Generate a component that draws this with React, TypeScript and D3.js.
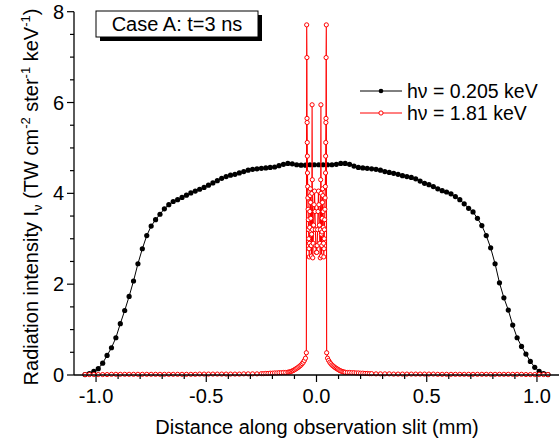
import React from 'react';
import * as d3 from 'd3';

const W = 559;
const H = 444;
const FONT = "'Liberation Sans', Arial, Helvetica, sans-serif";

// X axis ticks (mm)
const xMajorTicks = [-1.0, -0.5, 0.0, 0.5, 1.0];
const xMajorLabels = ['-1.0', '-0.5', '0.0', '0.5', '1.0'];
// Y axis ticks
const yMajorTicks = [0, 2, 4, 6, 8];
const yMajorLabels = ['0', '2', '4', '6', '8'];

const titleText = 'Case A: t=3 ns';
const seriesNames = ['hν = 0.205 keV', 'hν = 1.81 keV'];

// hν = 0.205 keV
const blackX = [
  -1.05, -1.03, -1.01, -0.99, -0.97, -0.95, -0.93, -0.91, -0.89, -0.87, -0.85, -0.83, -0.81, -0.79,
  -0.77, -0.75, -0.73, -0.71, -0.69, -0.67, -0.65, -0.63, -0.61, -0.59, -0.57, -0.55, -0.53, -0.51,
  -0.49, -0.47, -0.45, -0.43, -0.41, -0.39, -0.37, -0.35, -0.33, -0.31, -0.29, -0.27, -0.25, -0.23,
  -0.21, -0.19, -0.17, -0.15, -0.13, -0.11, -0.09, -0.07, -0.05, -0.03, -0.01,
  0.01, 0.03, 0.05, 0.07, 0.09, 0.11, 0.13, 0.15, 0.17, 0.19, 0.21, 0.23, 0.25, 0.27, 0.29, 0.31,
  0.33, 0.35, 0.37, 0.39, 0.41, 0.43, 0.45, 0.47, 0.49, 0.51, 0.53, 0.55, 0.57, 0.59, 0.61, 0.63,
  0.65, 0.67, 0.69, 0.71, 0.73, 0.75, 0.77, 0.79, 0.81, 0.83, 0.85, 0.87, 0.89, 0.91, 0.93, 0.95,
  0.97, 0.99, 1.01, 1.03, 1.05,
];
const blackY = [
  0.01, 0.03, 0.08, 0.14, 0.26, 0.43, 0.6, 0.82, 1.13, 1.42, 1.73, 2.07, 2.45, 2.78,
  3.07, 3.28, 3.42, 3.54, 3.66, 3.75, 3.82, 3.86, 3.91, 3.96, 4.01, 4.05, 4.09, 4.13,
  4.18, 4.23, 4.28, 4.33, 4.37, 4.4, 4.42, 4.45, 4.48, 4.51, 4.53, 4.54, 4.55, 4.56,
  4.57, 4.58, 4.61, 4.64, 4.66, 4.65, 4.63, 4.62, 4.62, 4.63, 4.63,
  4.63, 4.63, 4.63, 4.63, 4.64, 4.66, 4.66, 4.64, 4.6, 4.57, 4.56, 4.55, 4.54, 4.53, 4.51,
  4.48, 4.46, 4.44, 4.42, 4.39, 4.37, 4.35, 4.32, 4.27, 4.22, 4.19, 4.15, 4.1, 4.06, 4.03, 3.99,
  3.93, 3.86, 3.77, 3.67, 3.59, 3.45, 3.29, 3.07, 2.8, 2.45, 2.03, 1.7, 1.43, 1.1, 0.82, 0.63, 0.46,
  0.3, 0.17, 0.08, 0.03, 0.01,
];

// hν = 1.81 keV
const redX = [
  -1.05, -1.03, -1.01, -0.99, -0.97, -0.95, -0.93, -0.91, -0.89, -0.87, -0.85, -0.83, -0.81, -0.79,
  -0.77, -0.75, -0.73, -0.71, -0.69, -0.67, -0.65, -0.63, -0.61, -0.59, -0.57, -0.55, -0.53, -0.51,
  -0.49, -0.47, -0.45, -0.43, -0.41, -0.39, -0.37, -0.35, -0.33, -0.31, -0.29, -0.27,
  -0.25, -0.24, -0.23, -0.22, -0.21, -0.2, -0.19, -0.18, -0.17, -0.16, -0.15, -0.14, -0.13,
  -0.125, -0.12, -0.115, -0.11, -0.105, -0.1, -0.095, -0.09, -0.085, -0.08, -0.075, -0.07, -0.065,
  -0.06, -0.055, -0.05,
  -0.046, -0.0445, -0.0435, -0.043, -0.0425, -0.042, -0.0415, -0.041, -0.04, -0.039, -0.038, -0.037,
  -0.036, -0.035, -0.034, -0.033, -0.032, -0.031, -0.03, -0.029, -0.028, -0.027, -0.026, -0.025,
  -0.024, -0.023, -0.022, -0.021, -0.02, -0.019, -0.018, -0.017, -0.015, -0.013, -0.011, -0.009,
  -0.007, -0.005, -0.003, -0.001,
  0.001, 0.003, 0.005, 0.007, 0.009, 0.011, 0.013, 0.015, 0.017, 0.018, 0.019, 0.02, 0.021, 0.022,
  0.023, 0.024, 0.025, 0.026, 0.027, 0.028, 0.029, 0.03, 0.031, 0.032, 0.033, 0.034, 0.035, 0.036,
  0.037, 0.038, 0.039, 0.04, 0.041, 0.0415, 0.042, 0.0425, 0.043, 0.0435, 0.0445, 0.046,
  0.05, 0.055, 0.06, 0.065, 0.07, 0.075, 0.08, 0.085, 0.09, 0.095, 0.1, 0.105, 0.11, 0.115, 0.12,
  0.125,
  0.13, 0.14, 0.15, 0.16, 0.17, 0.18, 0.19, 0.2, 0.21, 0.22, 0.23, 0.24, 0.25,
  0.27, 0.29, 0.31, 0.33, 0.35, 0.37, 0.39, 0.41, 0.43, 0.45, 0.47, 0.49, 0.51, 0.53, 0.55, 0.57,
  0.59, 0.61, 0.63, 0.65, 0.67, 0.69, 0.71, 0.73, 0.75, 0.77, 0.79, 0.81, 0.83, 0.85, 0.87, 0.89,
  0.91, 0.93, 0.95, 0.97, 0.99, 1.01, 1.03, 1.05,
];
const redY = [
  0.01, 0.01, 0.01, 0.01, 0.01, 0.01, 0.015, 0.015, 0.015, 0.015, 0.015, 0.015, 0.015, 0.015,
  0.015, 0.015, 0.015, 0.015, 0.015, 0.015, 0.015, 0.015, 0.015, 0.015, 0.015, 0.015, 0.02, 0.02,
  0.02, 0.02, 0.02, 0.02, 0.02, 0.02, 0.02, 0.02, 0.025, 0.025, 0.025, 0.025,
  0.03, 0.03, 0.035, 0.035, 0.04, 0.04, 0.045, 0.045, 0.05, 0.05, 0.055, 0.055, 0.06,
  0.065, 0.07, 0.08, 0.09, 0.1, 0.115, 0.13, 0.145, 0.16, 0.18, 0.2, 0.22, 0.25,
  0.28, 0.32, 0.37,
  0.49, 7.71, 6.99, 5.65, 5.56, 5.12, 4.82, 4.45, 4.15, 3.9, 3.65, 3.42,
  3.2, 3.0, 2.78, 2.6, 2.9, 3.25, 3.6, 3.95, 4.1, 3.8, 3.45, 3.15,
  2.85, 2.62, 3.1, 4.0, 5.95, 4.3, 3.2, 2.58, 2.9, 3.3, 3.75, 4.05,
  3.6, 3.2, 2.85, 2.7,
  2.7, 2.85, 3.2, 3.6, 4.05, 3.75, 3.3, 2.9, 2.58, 3.2, 4.3, 5.95, 4.0, 3.1,
  2.62, 2.85, 3.15, 3.45, 3.8, 4.1, 3.95, 3.6, 3.25, 2.9, 2.6, 2.78, 3.0, 3.2,
  3.42, 3.65, 3.9, 4.15, 4.45, 4.82, 5.12, 5.56, 5.65, 6.99, 7.71, 0.49,
  0.37, 0.32, 0.28, 0.25, 0.22, 0.2, 0.18, 0.16, 0.145, 0.13, 0.115, 0.1, 0.09, 0.08, 0.07,
  0.065,
  0.06, 0.055, 0.055, 0.05, 0.05, 0.045, 0.045, 0.04, 0.04, 0.035, 0.035, 0.03, 0.03,
  0.025, 0.025, 0.025, 0.025, 0.02, 0.02, 0.02, 0.02, 0.02, 0.02, 0.02, 0.02, 0.02, 0.02, 0.015, 0.015,
  0.015, 0.015, 0.015, 0.015, 0.015, 0.015, 0.015, 0.015, 0.015, 0.015, 0.015, 0.015, 0.015, 0.015, 0.015, 0.015,
  0.015, 0.015, 0.01, 0.01, 0.01, 0.01, 0.01, 0.01,
];

const xScale = d3.scaleLinear().domain([-1.1, 1.1]).range([74, 559]);
const yScale = d3.scaleLinear().domain([0, 8]).range([375, 11.7]);

type Pt = [number, number];
const lineGen = d3
  .line<Pt>()
  .x((d) => xScale(d[0]))
  .y((d) => yScale(d[1]));

const blackPts: Pt[] = blackX.map((v, i) => [v, blackY[i]]);
const redPts: Pt[] = redX.map((v, i) => [v, redY[i]]);

const xMinorTicks = d3.range(-11, 12).map((i) => i / 10).filter(
  (t) => Math.abs(t) < 1.095 && !xMajorTicks.some((m) => Math.abs(m - t) < 1e-9)
);
const yMinorTicks = d3.range(0, 17).map((i) => i / 2).filter((t) => t % 2 !== 0);

export default function App() {
  const x0 = xScale.range()[0];
  const x1 = xScale.range()[1];
  const yb = yScale(0);
  const yt = yScale(8);
  return (
    <svg
      width={W}
      height={H}
      viewBox={`0 0 ${W} ${H}`}
      style={{ position: 'absolute', left: 0, top: 0, background: '#fff' }}
      fontFamily={FONT}
    >
      <rect x={0} y={0} width={W} height={H} fill="#fff" />

      {/* black series */}
      <path d={lineGen(blackPts) || ''} fill="none" stroke="#000" strokeWidth={1} />
      {blackPts.map((d, i) => (
        <circle key={'b' + i} cx={xScale(d[0])} cy={yScale(d[1])} r={2.6} fill="#000" />
      ))}

      {/* red series */}
      <path d={lineGen(redPts) || ''} fill="none" stroke="#ff0000" strokeWidth={1.1} />
      {redPts.map((d, i) => (
        <circle
          key={'r' + i}
          cx={xScale(d[0])}
          cy={yScale(d[1])}
          r={2.1}
          fill="#fff"
          stroke="#ff0000"
          strokeWidth={1}
        />
      ))}

      {/* axes */}
      <line x1={x0} y1={yb} x2={x1} y2={yb} stroke="#000" strokeWidth={1.3} />
      <line x1={x0} y1={yb} x2={x0} y2={yt} stroke="#000" strokeWidth={1.3} />

      {xMajorTicks.map((t, i) => (
        <g key={'xm' + i}>
          <line x1={xScale(t)} x2={xScale(t)} y1={yb} y2={yb + 7} stroke="#000" strokeWidth={1.2} />
          <text x={xScale(t)} y={yb + 28} fontSize={20} textAnchor="middle" fill="#000">
            {xMajorLabels[i]}
          </text>
        </g>
      ))}
      {xMinorTicks.map((t, i) => (
        <line key={'xn' + i} x1={xScale(t)} x2={xScale(t)} y1={yb} y2={yb + 4} stroke="#000" strokeWidth={1.2} />
      ))}

      {yMajorTicks.map((t, i) => (
        <g key={'ym' + i}>
          <line x1={x0 - 7} x2={x0} y1={yScale(t)} y2={yScale(t)} stroke="#000" strokeWidth={1.2} />
          <text x={x0 - 10} y={yScale(t) + 7} fontSize={20} textAnchor="end" fill="#000">
            {yMajorLabels[i]}
          </text>
        </g>
      ))}
      {yMinorTicks.map((t, i) => (
        <line key={'yn' + i} x1={x0 - 4} x2={x0} y1={yScale(t)} y2={yScale(t)} stroke="#000" strokeWidth={1.2} />
      ))}

      {/* axis titles */}
      <text x={317} y={434} fontSize={20} textAnchor="middle" fill="#000">
        Distance along observation slit (mm)
      </text>
      <text
        transform="translate(38,197) rotate(-90)"
        fontSize={20}
        textAnchor="middle"
        fill="#000"
      >
        <tspan>Radiation intensity I</tspan>
        <tspan fontSize={13} dy={4}>ν</tspan>
        <tspan dy={-4}> (TW cm</tspan>
        <tspan fontSize={13} dy={-8}>-2</tspan>
        <tspan dy={8}> ster</tspan>
        <tspan fontSize={13} dy={-8}>-1</tspan>
        <tspan dy={8}> keV</tspan>
        <tspan fontSize={13} dy={-8}>-1</tspan>
        <tspan dy={8}>)</tspan>
      </text>

      {/* title box */}
      <rect x={100} y={15} width={162} height={26} fill="#000" />
      <rect x={96} y={11} width={162} height={26} fill="#fff" stroke="#000" strokeWidth={1} />
      <text x={177} y={31} fontSize={20} textAnchor="middle" fill="#000">
        {titleText}
      </text>

      {/* legend */}
      <line x1={360} x2={402} y1={91} y2={91} stroke="#000" strokeWidth={1} />
      <circle cx={381} cy={91} r={2.3} fill="#000" />
      <text x={407} y={98} fontSize={19.5} fill="#000">
        {seriesNames[0]}
      </text>
      <line x1={360} x2={402} y1={113} y2={113} stroke="#ff0000" strokeWidth={1} />
      <circle cx={381} cy={113} r={2.1} fill="#fff" stroke="#ff0000" strokeWidth={1} />
      <text x={407} y={120} fontSize={19.5} fill="#000">
        {seriesNames[1]}
      </text>
    </svg>
  );
}
